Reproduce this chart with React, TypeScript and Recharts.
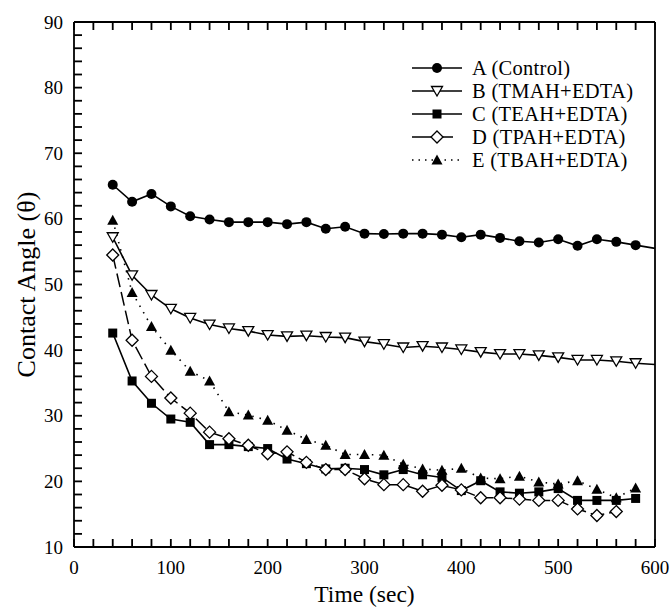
import React from 'react';
import { LineChart, Line, XAxis, YAxis } from 'recharts';

const TIMES = [40, 60, 80, 100, 120, 140, 160, 180, 200, 220, 240, 260, 280, 300, 320, 340, 360, 380, 400, 420, 440, 460, 480, 500, 520, 540, 560, 580, 600];
const SERIES_A = [65.2, 62.6, 63.8, 61.9, 60.4, 59.9, 59.5, 59.5, 59.5, 59.2, 59.5, 58.5, 58.8, 57.75, 57.7, 57.75, 57.75, 57.6, 57.2, 57.6, 57.1, 56.6, 56.4, 56.9, 55.9, 56.9, 56.5, 56.0, 55.5];
const SERIES_B = [57.2, 51.4, 48.4, 46.3, 44.9, 43.9, 43.3, 42.9, 42.3, 42.1, 42.2, 42.0, 41.9, 41.3, 40.9, 40.4, 40.6, 40.4, 40.1, 39.7, 39.4, 39.4, 39.2, 38.9, 38.5, 38.5, 38.3, 38.0, 37.8];
const SERIES_C = [42.6, 35.3, 31.9, 29.5, 29.0, 25.6, 25.6, 25.3, 25.0, 23.4, 22.7, 21.9, 22.0, 21.8, 21.0, 21.8, 21.0, 20.6, 18.6, 20.1, 18.4, 18.2, 18.4, 18.9, 17.1, 17.1, 17.1, 17.4, null];
const SERIES_D = [54.5, 41.5, 36.0, 32.7, 30.4, 27.5, 26.5, 25.5, 24.2, 24.5, 22.9, 21.8, 21.8, 20.4, 19.5, 19.5, 18.5, 19.4, 18.7, 17.5, 17.5, 17.3, 17.1, 17.1, 15.8, 14.8, 15.4, null, null];
const SERIES_E = [59.8, 48.8, 43.6, 40.0, 36.8, 35.3, 30.6, 30.1, 29.3, 27.8, 26.4, 25.5, 24.1, 24.1, 24.0, 22.6, 21.9, 21.7, 22.0, 20.5, 20.4, 20.8, 19.9, 19.6, 20.1, 18.8, 17.5, 19.0, null];

const SERIES_NAMES = ['A (Control)', 'B (TMAH+EDTA)', 'C (TEAH+EDTA)', 'D (TPAH+EDTA)', 'E (TBAH+EDTA)'];
const X_TICKS = [0, 20, 40, 60, 80, 100, 120, 140, 160, 180, 200, 220, 240, 260, 280, 300, 320, 340, 360, 380, 400, 420, 440, 460, 480, 500, 520, 540, 560, 580, 600];
const Y_TICKS = [10, 12, 14, 16, 18, 20, 22, 24, 26, 28, 30, 32, 34, 36, 38, 40, 42, 44, 46, 48, 50, 52, 54, 56, 58, 60, 62, 64, 66, 68, 70, 72, 74, 76, 78, 80, 82, 84, 86, 88, 90];
const X_LABEL = 'Time (sec)';
const Y_LABEL = 'Contact Angle (θ)';

const X_DOMAIN: [number, number] = [0, 600];
const Y_DOMAIN: [number, number] = [10, 90];

const rows = TIMES.map((t, i) => ({
  t,
  a: SERIES_A[i],
  b: SERIES_B[i],
  c: SERIES_C[i],
  d: SERIES_D[i],
  e: SERIES_E[i],
}));

const FONT = '"Liberation Serif", "DejaVu Serif", serif';
const TL = 8; // tick length
const TW = 1.8; // tick width

type Kind = 'circle' | 'triDown' | 'square' | 'diamond' | 'triUp';

const Marker = ({ cx, cy, kind }: { cx: number; cy: number; kind: Kind }) => {
  if (kind === 'circle') return <circle cx={cx} cy={cy} r={5} fill="#000" />;
  if (kind === 'square') return <rect x={cx - 4.5} y={cy - 4.5} width={9} height={9} fill="#000" />;
  if (kind === 'triDown')
    return (
      <path
        d={`M${cx - 5.5},${cy - 4.5} L${cx + 5.5},${cy - 4.5} L${cx},${cy + 5} Z`}
        fill="#fff"
        stroke="#000"
        strokeWidth={1.3}
      />
    );
  if (kind === 'triUp')
    return <path d={`M${cx - 5.5},${cy + 4.5} L${cx + 5.5},${cy + 4.5} L${cx},${cy - 5.5} Z`} fill="#000" />;
  return (
    <path
      d={`M${cx},${cy - 6} L${cx + 6},${cy} L${cx},${cy + 6} L${cx - 6},${cy} Z`}
      fill="#fff"
      stroke="#000"
      strokeWidth={1.3}
    />
  );
};

const makeDot = (kind: Kind) => (props: any) => {
  const { cx, cy, payload, index, value } = props;
  const key = `${kind}-${index}`;
  if (value == null || cx == null || cy == null || payload.t >= 600) return <g key={key} />;
  return (
    <g key={key}>
      <Marker cx={cx} cy={cy} kind={kind} />
    </g>
  );
};

const BottomTick = (props: any) => {
  const { x, y, payload } = props;
  const major = payload.value % 100 === 0;
  return (
    <g>
      <rect x={x - TW / 2} y={y - TL} width={TW} height={TL} fill="#000" />
      {major && (
        <text x={x} y={y + 27} textAnchor="middle" fontFamily={FONT} fontSize={19} fill="#000">
          {payload.value}
        </text>
      )}
    </g>
  );
};

const TopTick = (props: any) => {
  const { x, y } = props;
  return <rect x={x - TW / 2} y={y} width={TW} height={TL} fill="#000" />;
};

const LeftTick = (props: any) => {
  const { x, y, payload } = props;
  const major = payload.value % 10 === 0;
  return (
    <g>
      <rect x={x} y={y - TW / 2} width={TL} height={TW} fill="#000" />
      {major && (
        <text x={x - 11} y={y + 6.5} textAnchor="end" fontFamily={FONT} fontSize={19} fill="#000">
          {payload.value}
        </text>
      )}
    </g>
  );
};

const RightTick = (props: any) => {
  const { x, y } = props;
  return <rect x={x - TL} y={y - TW / 2} width={TL} height={TW} fill="#000" />;
};

const LEGEND_STYLES: { kind: Kind; dash?: string }[] = [
  { kind: 'circle' },
  { kind: 'triDown' },
  { kind: 'square' },
  { kind: 'diamond', dash: '22 7 12' },
  { kind: 'triUp', dash: '1.5 5' },
];

const LEGEND_X = 412;
const LEGEND_Y = 68;
const LEGEND_STEP = 23;

const LegendOverlay = () => (
  <svg width={672} height={611} style={{ position: 'absolute', left: 0, top: 0, pointerEvents: 'none' }}>
    {SERIES_NAMES.map((name, i) => {
      const cy = LEGEND_Y + i * LEGEND_STEP;
      const st = LEGEND_STYLES[i];
      return (
        <g key={name}>
          <line
            x1={LEGEND_X}
            y1={cy}
            x2={LEGEND_X + 50}
            y2={cy}
            stroke="#000"
            strokeWidth={1.6}
            strokeDasharray={st.dash}
          />
          <Marker cx={LEGEND_X + 25} cy={cy} kind={st.kind} />
          <text x={LEGEND_X + 60} y={cy + 7} fontFamily={FONT} fontSize={20.5} letterSpacing={0.3} fill="#000">
            {name}
          </text>
        </g>
      );
    })}
  </svg>
);

const axisLine = { stroke: '#000', strokeWidth: 1.8 };

export default function App() {
  return (
    <div style={{ position: 'absolute', left: 0, top: 0, width: 672, height: 611, background: '#fff' }}>
      <LineChart width={672} height={611} data={rows} margin={{ top: 21, right: 16, bottom: 0, left: 0 }}>
        <XAxis
          xAxisId="b"
          dataKey="t"
          type="number"
          domain={X_DOMAIN}
          ticks={X_TICKS}
          interval={0}
          height={64}
          tickSize={0}
          tickMargin={0}
          tickLine={false}
          axisLine={axisLine}
          tick={<BottomTick />}
          label={{
            content: (p: any) => {
              const vb = p.viewBox || {};
              return (
                <text
                  x={vb.x + vb.width / 2}
                  y={vb.y + 55}
                  textAnchor="middle"
                  fontFamily={FONT}
                  fontSize={23.5}
                  fill="#000"
                >
                  {X_LABEL}
                </text>
              );
            },
          }}
        />
        <XAxis
          xAxisId="t"
          orientation="top"
          dataKey="t"
          type="number"
          domain={X_DOMAIN}
          ticks={X_TICKS}
          interval={0}
          height={1}
          tickSize={0}
          tickMargin={0}
          tickLine={false}
          axisLine={axisLine}
          tick={<TopTick />}
        />
        <YAxis
          yAxisId="l"
          type="number"
          domain={Y_DOMAIN}
          ticks={Y_TICKS}
          interval={0}
          width={74}
          tickSize={0}
          tickMargin={0}
          tickLine={false}
          axisLine={axisLine}
          tick={<LeftTick />}
          label={{
            content: (p: any) => {
              const vb = p.viewBox || {};
              const cx = 26;
              const cy = vb.y + vb.height / 2;
              return (
                <text
                  x={cx}
                  y={cy}
                  textAnchor="middle"
                  dominantBaseline="central"
                  transform={`rotate(-90 ${cx} ${cy})`}
                  fontFamily={FONT}
                  fontSize={26}
                  fill="#000"
                >
                  {Y_LABEL}
                </text>
              );
            },
          }}
        />
        <YAxis
          yAxisId="r"
          orientation="right"
          type="number"
          domain={Y_DOMAIN}
          ticks={Y_TICKS}
          interval={0}
          width={1}
          tickSize={0}
          tickMargin={0}
          tickLine={false}
          axisLine={axisLine}
          tick={<RightTick />}
        />
        <Line xAxisId="b" yAxisId="l" dataKey="a" stroke="#000" strokeWidth={1.6} dot={makeDot('circle')} isAnimationActive={false} />
        <Line xAxisId="b" yAxisId="l" dataKey="b" stroke="#000" strokeWidth={1.6} dot={makeDot('triDown')} isAnimationActive={false} />
        <Line xAxisId="b" yAxisId="l" dataKey="c" stroke="#000" strokeWidth={1.6} dot={makeDot('square')} isAnimationActive={false} />
        <Line xAxisId="b" yAxisId="l" dataKey="d" stroke="#000" strokeWidth={1.5} strokeDasharray="14 5" dot={makeDot('diamond')} isAnimationActive={false} />
        <Line xAxisId="b" yAxisId="l" dataKey="e" stroke="#000" strokeWidth={1.6} strokeDasharray="1.5 6" dot={makeDot('triUp')} isAnimationActive={false} />
      </LineChart>
      <LegendOverlay />
    </div>
  );
}
